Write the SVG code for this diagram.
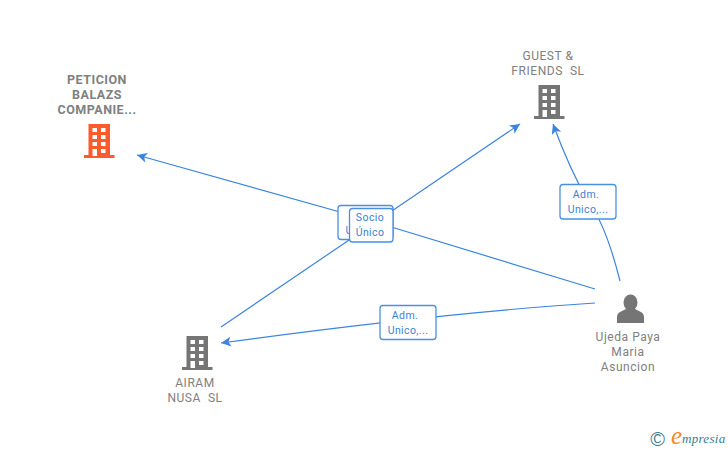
<svg xmlns="http://www.w3.org/2000/svg" width="728" height="450" viewBox="0 0 728 450">
<style>
text{font-family:Roboto,"Liberation Sans",Arial,sans-serif;white-space:pre}
.n{font-size:12px;fill:#808080;text-anchor:middle;letter-spacing:.55px}
.b{font-size:12.500px;font-weight:bold;fill:#808080;text-anchor:middle;letter-spacing:.5px}
.c{fill:none;stroke:#3b84e0;stroke-width:1.2}
.lb{fill:#fff;stroke:#4a90e2;stroke-width:1.3}
.lt{font-size:10.500px;fill:#3b7fd6;text-anchor:middle;letter-spacing:.4px}
.w{fill:#fff}
</style>
<defs>
<marker id="ah" markerUnits="userSpaceOnUse" markerWidth="12" markerHeight="12" refX="10" refY="5" orient="auto"><path d="M0 0L10 5L0 10L2.500 5Z" fill="#3b84e0"/></marker>
<g id="bld">
<path d="M-10.500 -17H11V14H15.500V17H-15V14H-10.500Z"/>
<g class="w">
<rect x="-6.500" y="-13" width="4.500" height="4"/><rect x="2" y="-13" width="4.500" height="4"/>
<rect x="-6.500" y="-6" width="4.500" height="4"/><rect x="2" y="-6" width="4.500" height="4"/>
<rect x="-6.500" y="1" width="4.500" height="4"/><rect x="2" y="1" width="4.500" height="4"/>
<rect x="-6.500" y="8" width="4.500" height="7"/><rect x="2" y="8" width="4.500" height="4"/>
</g>
</g>
</defs>
<g id="connectors">
<path class="c" d="M595 289L365 219L137 155" marker-end="url(#ah)"/>
<path class="c" d="M221 327L520 124" marker-end="url(#ah)"/>
<path class="c" d="M595 303Q440 313 221 343" marker-end="url(#ah)"/>
<path class="c" d="M620 281Q606 225 588 201Q570 170 553 124" marker-end="url(#ah)"/>
</g>
<g id="node-peticion">
<text class="b" x="97" y="84">PETICION</text><text class="b" x="97" y="99">BALAZS</text><text class="b" x="97" y="114">COMPANIE...</text>
<use href="#bld" x="99" y="141" fill="#ff5a2d"/>
</g>
<g id="node-guest">
<text class="n" x="548" y="60">GUEST &amp;</text><text class="n" x="548" y="75">FRIENDS  SL</text>
<use href="#bld" x="549" y="102" fill="#757575"/>
</g>
<g id="node-airam">
<use href="#bld" x="197" y="353" fill="#757575"/>
<text class="n" x="195" y="386.500">AIRAM</text><text class="n" x="195" y="401.500">NUSA  SL</text>
</g>
<g id="node-ujeda">
<ellipse cx="630.500" cy="302.500" rx="7" ry="8" fill="#757575"/>
<path d="M617 323V317Q617 313 621 311.500L626 309H635L640 311.500Q644 313 644 317V323Z" fill="#757575"/>
<text class="n" x="628" y="340.500">Ujeda Paya</text><text class="n" x="628" y="355.500">Maria</text><text class="n" x="628" y="370.500">Asuncion</text>
</g>
<g id="label-adm-1"><rect class="lb" x="560" y="184.500" width="56" height="34.500" rx="3"/><text class="lt" x="586" y="198">Adm.</text><text class="lt" x="588" y="213">Unico,...</text></g>
<g id="label-adm-2"><rect class="lb" x="380" y="305.500" width="56" height="34" rx="3"/><text class="lt" x="405" y="319">Adm.</text><text class="lt" x="408" y="334">Unico,...</text></g>
<g id="label-adm-3"><rect class="lb" x="338" y="205.500" width="55" height="34" rx="3"/><text class="lt" x="345.500" y="234" style="text-anchor:start">U</text></g>
<g id="label-socio"><rect class="lb" x="349.500" y="208.500" width="43.500" height="33.500" rx="3"/><text class="lt" x="370" y="221">Socio</text><text class="lt" x="370" y="236">Único</text></g>
<g id="logo">
<text x="657.500" y="445.500" font-size="20px" fill="#3f7f8c" text-anchor="middle" style="font-family:'Liberation Sans',sans-serif">©</text>
<text x="671" y="444" font-size="25px" font-style="italic" fill="#f58a1f" style="font-family:'Liberation Serif',serif">e</text>
<text x="682" y="443" font-size="13px" font-style="italic" fill="#2f7f95" style="font-family:'Liberation Serif',serif;letter-spacing:.3px">mpresia</text>
</g>
</svg>
